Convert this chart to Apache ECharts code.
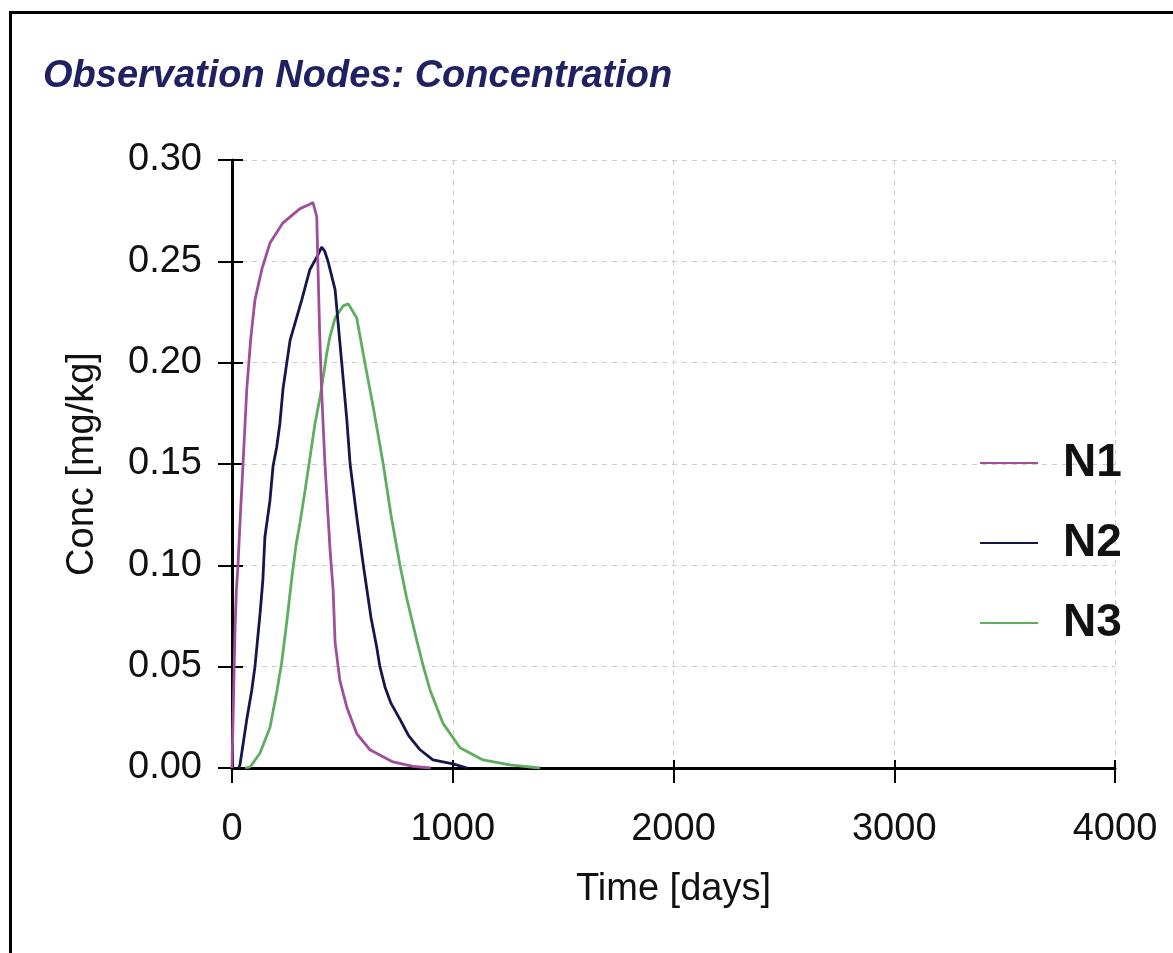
<!DOCTYPE html>
<html>
<head>
<meta charset="utf-8">
<script src="https://cdn.jsdelivr.net/npm/echarts@6/dist/echarts.min.js"></script>
<style>
  html, body { margin: 0; padding: 0; background: #ffffff; }
  #frame { position: absolute; left: 9px; top: 11px; width: 1164px; height: 942px;
           border-top: 3px solid #000; border-left: 3px solid #000; box-sizing: border-box; }
  #chart { position: absolute; left: 0; top: 0; width: 1173px; height: 953px; }
</style>
</head>
<body>
<div id="frame"></div>
<div id="chart"></div>
<script>
// ---- data ----
const seriesNames = ['N1', 'N2', 'N3'];
const xTicks = [0, 1000, 2000, 3000, 4000];
const yTicks = [0.00, 0.05, 0.10, 0.15, 0.20, 0.25, 0.30];

const n1Time = [0, 4, 9, 14, 20, 27, 38, 50, 67, 85, 104, 135, 172, 231, 308, 350, 367, 384, 390, 397, 406, 421, 444, 458, 467, 489, 520, 565, 625, 729, 820, 900];
const n1Conc = [0, 0.02, 0.045, 0.07, 0.088, 0.10, 0.125, 0.15, 0.187, 0.212, 0.231, 0.246, 0.259, 0.269, 0.276, 0.278, 0.279, 0.272, 0.245, 0.215, 0.186, 0.15, 0.108, 0.088, 0.062, 0.043, 0.03, 0.017, 0.009, 0.003, 0.0008, 0];

const n2Time = [30, 36, 67, 89, 104, 127, 140, 149, 172, 186, 202, 217, 231, 263, 316, 353, 384, 406, 420, 435, 467, 497, 520, 535, 565, 595, 630, 655, 670, 693, 720, 761, 800, 852, 910, 1001, 1065];
const n2Conc = [0, 0.0015, 0.024, 0.038, 0.05, 0.076, 0.093, 0.114, 0.132, 0.149, 0.158, 0.17, 0.187, 0.211, 0.231, 0.246, 0.252, 0.257, 0.255, 0.25, 0.236, 0.20, 0.172, 0.15, 0.124, 0.10, 0.074, 0.06, 0.05, 0.04, 0.032, 0.024, 0.016, 0.009, 0.004, 0.002, 0];

const n3Time = [60, 82, 127, 172, 202, 225, 248, 270, 290, 308, 331, 353, 376, 399, 412, 430, 444, 467, 503, 527, 565, 602, 640, 685, 720, 761, 791, 837, 867, 897, 956, 1033, 1137, 1259, 1395];
const n3Conc = [0, 0.0005, 0.0074, 0.02, 0.037, 0.052, 0.072, 0.093, 0.11, 0.121, 0.137, 0.153, 0.17, 0.183, 0.192, 0.205, 0.213, 0.222, 0.228, 0.229, 0.222, 0.20, 0.178, 0.15, 0.125, 0.10, 0.084, 0.063, 0.05, 0.0385, 0.022, 0.010, 0.004, 0.0015, 0];

const seriesColors = ['#a04e9c', '#16164e', '#5eae5e'];
// ---------------------------------------------

const FONT = "'Liberation Sans', Arial, sans-serif";
const pairs = (t, c) => t.map((v, i) => [v, c[i]]);
const dataSets = [pairs(n1Time, n1Conc), pairs(n2Time, n2Conc), pairs(n3Time, n3Conc)];

const xMin = xTicks[0], xMax = xTicks[xTicks.length - 1], xInt = xTicks[1] - xTicks[0];
const yMin = yTicks[0], yMax = yTicks[yTicks.length - 1], yInt = yTicks[1] - yTicks[0];

const chart = echarts.init(document.getElementById('chart'), null, { renderer: 'canvas' });

const option = {
  backgroundColor: 'transparent',
  animation: false,
  title: {
    text: 'Observation Nodes: Concentration',
    left: 38, top: 53,
    textStyle: { fontFamily: FONT, fontSize: 38, fontWeight: 'bold', fontStyle: 'italic', color: '#1f2163' }
  },
  legend: {
    orient: 'vertical', left: 975, top: 435,
    icon: 'rect', itemWidth: 58, itemHeight: 2, itemGap: 34,
    textStyle: { fontFamily: FONT, fontSize: 46, fontWeight: 'bold', color: '#111', lineHeight: 46, padding: [0, 0, 0, 20] },
    data: seriesNames
  },
  grid: { left: 232, top: 160, right: 58, bottom: 185, containLabel: false },
  xAxis: [
    {
      type: 'value', min: xMin, max: xMax, interval: xInt,
      name: 'Time [days]', nameLocation: 'middle', nameGap: 103,
      nameTextStyle: { fontFamily: FONT, fontSize: 38, color: '#111' },
      axisLine: { show: true, onZero: false, lineStyle: { color: '#000', width: 3 } },
      axisTick: { show: true, length: 15, lineStyle: { color: '#000', width: 2 } },
      axisLabel: { fontFamily: FONT, fontSize: 38, color: '#111', margin: 43, formatter: v => String(v) },
      splitLine: { show: true, lineStyle: { color: '#cfcfcf', width: 1, type: [5, 5] } }
    },
    {
      type: 'value', min: xMin, max: xMax, interval: xInt, position: 'bottom',
      axisLine: { show: false },
      axisTick: { show: true, inside: true, length: 8, lineStyle: { color: '#000', width: 2 } },
      axisLabel: { show: false }, splitLine: { show: false }
    }
  ],
  yAxis: [
    {
      type: 'value', min: yMin, max: yMax, interval: yInt,
      name: 'Conc [mg/kg]', nameLocation: 'middle', nameGap: 130, nameRotate: 90,
      nameTextStyle: { fontFamily: FONT, fontSize: 38, color: '#111' },
      axisLine: { show: true, onZero: false, lineStyle: { color: '#000', width: 3 } },
      axisTick: { show: true, length: 14, lineStyle: { color: '#000', width: 2 } },
      axisLabel: { fontFamily: FONT, fontSize: 38, color: '#111', margin: 30, formatter: v => v.toFixed(2) },
      splitLine: { show: true, lineStyle: { color: '#cfcfcf', width: 1, type: [5, 5] } }
    },
    {
      type: 'value', min: yMin, max: yMax, interval: yInt, position: 'left',
      axisLine: { show: false },
      axisTick: { show: true, inside: true, length: 11, lineStyle: { color: '#000', width: 2 } },
      axisLabel: { show: false }, splitLine: { show: false }
    }
  ],
  series: seriesNames.map((name, i) => ({
    name, type: 'line', xAxisIndex: 0, yAxisIndex: 0,
    data: dataSets[i], showSymbol: false, symbol: 'none', smooth: false,
    color: seriesColors[i],
    lineStyle: { width: 2.8, color: seriesColors[i] },
    z: 3 + (2 - i)
  }))
};

chart.setOption(option);
</script>
</body>
</html>
